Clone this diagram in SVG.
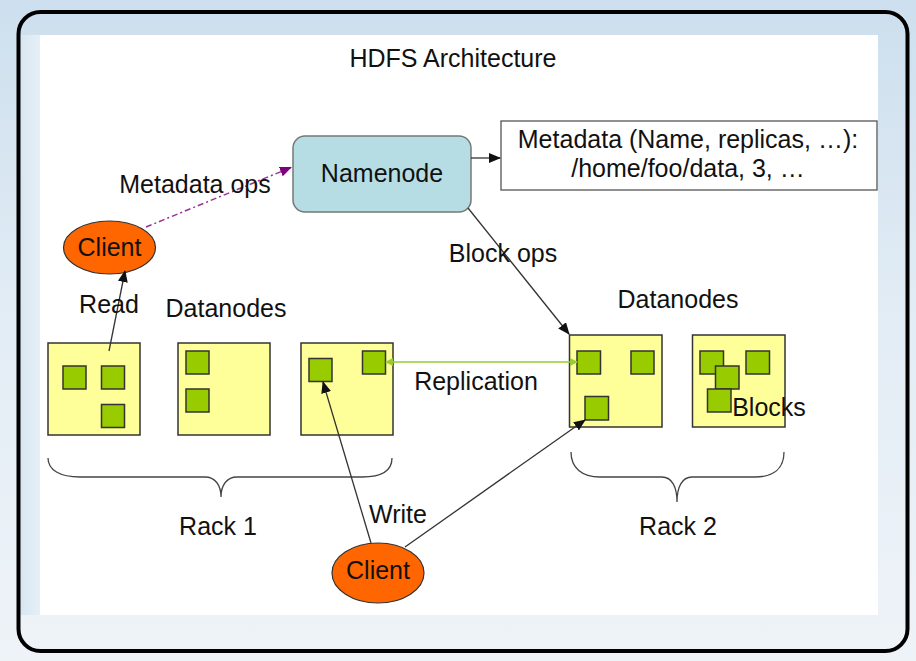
<svg xmlns="http://www.w3.org/2000/svg" width="916" height="661" viewBox="0 0 916 661">
<defs>
<linearGradient id="bg" x1="0" y1="0" x2="0" y2="1">
<stop offset="0" stop-color="#cddfee"/>
<stop offset="0.5" stop-color="#e3edf5"/>
<stop offset="1" stop-color="#eef3f8"/>
</linearGradient>
<linearGradient id="side" x1="0" y1="0" x2="1" y2="0">
<stop offset="0" stop-color="#d8e6f1"/>
<stop offset="1" stop-color="#f4f8fb"/>
</linearGradient>
<marker id="ab" markerWidth="12" markerHeight="10" refX="11" refY="5" orient="auto" markerUnits="userSpaceOnUse">
<path d="M0,0 L12,5 L0,10 Z" fill="#111"/>
</marker>
<marker id="ap" markerWidth="12" markerHeight="10" refX="11" refY="5" orient="auto" markerUnits="userSpaceOnUse">
<path d="M0,0 L12,5 L0,10 Z" fill="#800080"/>
</marker>
<marker id="ag" markerWidth="8" markerHeight="8" refX="7" refY="4" orient="auto-start-reverse" markerUnits="userSpaceOnUse">
<path d="M0,0 L8,4 L0,8 Z" fill="#99cc33"/>
</marker>
</defs>
<style>
text{font-family:"Liberation Sans",Arial,sans-serif;fill:#111;}
.t{font-size:25px;}
.dn{fill:#ffff99;stroke:#333;stroke-width:1.5;}
.blk{fill:#99cc00;stroke:#333;stroke-width:1.5;}
.cl{fill:#ff6600;stroke:#333;stroke-width:1.2;}
.ln{stroke:#333;stroke-width:1.3;fill:none;}
.br{stroke:#444;stroke-width:1.3;fill:none;}
</style>
<rect x="0" y="0" width="916" height="661" fill="url(#bg)"/>
<rect x="18.5" y="12" width="889" height="639" rx="22" fill="url(#bg)"/>
<rect x="20" y="35" width="40" height="580" fill="url(#side)"/>
<rect x="40" y="35" width="838" height="580" fill="#ffffff"/>
<rect x="18.5" y="12" width="889" height="639" rx="22" fill="none" stroke="#000" stroke-width="4"/>

<text x="453" y="67" font-size="25" text-anchor="middle">HDFS Architecture</text>

<g id="namenode">
<rect x="293" y="136" width="178" height="76" rx="12" fill="#b7dde4" stroke="#777" stroke-width="1.5"/>
<text x="382" y="182" class="t" text-anchor="middle">Namenode</text>
</g>

<g id="metadata">
<rect x="501" y="121" width="376" height="69" fill="#fff" stroke="#555" stroke-width="1.3"/>
<text x="688" y="148" class="t" text-anchor="middle">Metadata (Name, replicas, …):</text>
<text x="688" y="177" class="t" text-anchor="middle">/home/foo/data, 3, …</text>
</g>

<g id="client-read">
<ellipse cx="109.5" cy="247.5" rx="46" ry="26.5" class="cl"/>
<text x="109.5" y="256" class="t" text-anchor="middle">Client</text>
</g>

<g id="client-write">
<ellipse cx="378" cy="573" rx="46" ry="30" class="cl"/>
<text x="378" y="579" class="t" text-anchor="middle">Client</text>
</g>

<g id="datanodes-label-1"><text x="226" y="317" class="t" text-anchor="middle">Datanodes</text></g>
<g id="datanodes-label-2"><text x="678" y="308" class="t" text-anchor="middle">Datanodes</text></g>

<g id="dn1">
<rect x="48" y="343" width="92" height="92" class="dn"/>
<rect x="63" y="366" width="23" height="23" class="blk"/>
<rect x="101.5" y="366" width="23" height="23" class="blk"/>
<rect x="101.5" y="404.5" width="23" height="23" class="blk"/>
</g>
<g id="dn2">
<rect x="178" y="343" width="92" height="92" class="dn"/>
<rect x="186" y="351" width="23" height="23" class="blk"/>
<rect x="186" y="389" width="23" height="23" class="blk"/>
</g>
<g id="dn3">
<rect x="301" y="343" width="92" height="92" class="dn"/>
<rect x="309" y="358.5" width="23" height="23" class="blk"/>
<rect x="362.5" y="351" width="23" height="23" class="blk"/>
</g>
<g id="dn4">
<rect x="569.5" y="335" width="92.5" height="92" class="dn"/>
<rect x="577" y="351" width="23.5" height="23" class="blk"/>
<rect x="631" y="351" width="23" height="23" class="blk"/>
<rect x="585" y="396.5" width="23.5" height="23.5" class="blk"/>
</g>
<g id="dn5">
<rect x="692.5" y="335" width="92.5" height="92" class="dn"/>
<rect x="700" y="351" width="23.5" height="23" class="blk"/>
<rect x="746" y="351" width="23.5" height="23" class="blk"/>
<rect x="715.5" y="366" width="23.5" height="23" class="blk"/>
<rect x="707.5" y="389" width="23.5" height="23" class="blk"/>
<text x="769" y="416" class="t" text-anchor="middle">Blocks</text>
</g>

<g id="rack1">
<path d="M48,458 C48,470 60,477 80,477 L205,477 C215,477 221,485 221,497 C221,485 227,477 237,477 L362,477 C382,477 392,470 392,458" class="br"/>
<text x="218" y="535" class="t" text-anchor="middle">Rack 1</text>
</g>
<g id="rack2">
<path d="M571,452 C571,468 582,477 600,477 L662,477 C672,477 677,487 677,502 C677,487 682,477 692,477 L755,477 C774,477 784,468 784,452" class="br"/>
<text x="678" y="535" class="t" text-anchor="middle">Rack 2</text>
</g>

<g id="connectors">
<line x1="146" y1="227" x2="291" y2="167.5" stroke="#993399" stroke-width="1.5" stroke-dasharray="6,3,2,3" marker-end="url(#ap)"/>
<line x1="471" y1="158" x2="500" y2="158" class="ln" marker-end="url(#ab)"/>
<line x1="468" y1="208" x2="569" y2="334" class="ln" marker-end="url(#ab)"/>
<line x1="109" y1="351" x2="125" y2="271" class="ln" marker-end="url(#ab)"/>
<line x1="386" y1="362" x2="577" y2="362" stroke="#99cc33" stroke-width="1.5" marker-start="url(#ag)" marker-end="url(#ag)"/>
<line x1="371" y1="543" x2="323" y2="382" class="ln" marker-end="url(#ab)"/>
<line x1="405" y1="547" x2="585" y2="420" class="ln" marker-end="url(#ab)"/>
<text x="195" y="193" class="t" text-anchor="middle">Metadata ops</text>
<text x="503" y="262" class="t" text-anchor="middle">Block ops</text>
<text x="109" y="313" class="t" text-anchor="middle">Read</text>
<text x="476" y="390" class="t" text-anchor="middle">Replication</text>
<text x="398" y="523" class="t" text-anchor="middle">Write</text>
</g>
</svg>
